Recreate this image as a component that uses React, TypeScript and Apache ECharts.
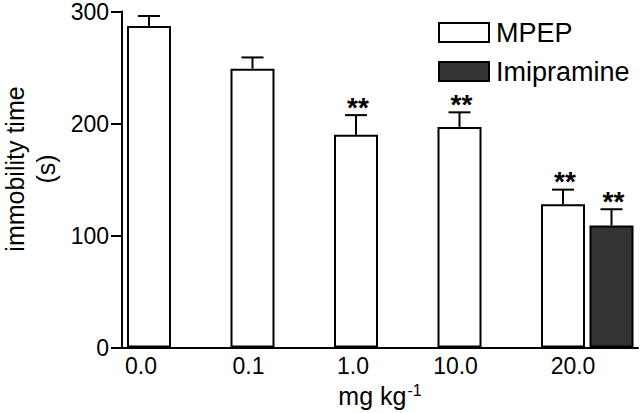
import React, { useEffect, useRef } from "react";
import * as echarts from "echarts";

// ---- data ----
const categories = ["0.0", "0.1", "1.0", "10.0", "20.0"];
const mpepMeans = [287, 249, 190, 197, 128];
const mpepSEM = [9, 10, 17.5, 13, 13];
const mpepSig = ["", "", "**", "**", "**"];
const imiCategory = "20.0";
const imiMeans = [109];
const imiSEM = [14.5];
const imiSig = ["**"];
const yTicks = [0, 100, 200, 300];

// ---- layout ----
const FONT = '"Liberation Sans", Arial, Helvetica, sans-serif';
const GRID = { left: 122, right: 2, top: 10, bottom: 58 };
const UNIT_PX = 103.5; // pixels between dose groups
const FIRST_PX = 27; // first bar centre from y axis
const BAR_W = 44;
const PAIR_GAP = 4.5;
const X_MIN = -FIRST_PX / UNIT_PX;
const X_MAX = X_MIN + (640 - GRID.left - GRID.right) / UNIT_PX;
const IMI_OFFSET = (BAR_W + PAIR_GAP) / UNIT_PX;
const LABEL_SHIFT_PX = [-8, -4, -3, -4, 10];

const imiIndex = categories.indexOf(imiCategory);
const mpepData = mpepMeans.map((v, i) => [i, v]);
const imiData = imiMeans.map((v) => [imiIndex + IMI_OFFSET, v]);
const mpepErr = mpepMeans.map((v, i) => [i, v, mpepSEM[i]]);
const imiErr = imiMeans.map((v, i) => [imiIndex + IMI_OFFSET, v, imiSEM[i]]);
const labelPositions = categories.map((_, i) => i + LABEL_SHIFT_PX[i] / UNIT_PX);

function errRenderer(sigs: string[]) {
  return (params: any, api: any) => {
    const x = api.value(0);
    const m = api.value(1);
    const e = api.value(2);
    const top = api.coord([x, m]);
    const cap = api.coord([x, m + e]);
    const children: any[] = [
      {
        type: "line",
        shape: { x1: top[0], y1: top[1], x2: cap[0], y2: cap[1] },
        style: { stroke: "#000", lineWidth: 2 },
      },
      {
        type: "line",
        shape: { x1: cap[0] - 11, y1: cap[1], x2: cap[0] + 11, y2: cap[1] },
        style: { stroke: "#000", lineWidth: 2 },
      },
    ];
    const s = sigs[params.dataIndex];
    if (s) {
      children.push({
        type: "text",
        style: {
          text: s,
          x: cap[0] + 2,
          y: cap[1] - 8,
          align: "center",
          verticalAlign: "middle",
          font: `bold 28px ${FONT}`,
          fill: "#000",
        },
      });
    }
    return { type: "group", children };
  };
}

export default function App() {
  const ref = useRef<HTMLDivElement>(null);
  useEffect(() => {
    if (!ref.current) return;
    const chart = echarts.init(ref.current, undefined, { renderer: "svg" });
    chart.setOption({
      animation: false,
      backgroundColor: "#fff",
      textStyle: { fontFamily: FONT, color: "#000" },
      grid: { ...GRID, containLabel: false },
      legend: {
        orient: "vertical",
        left: 438,
        top: 19,
        padding: 0,
        itemGap: 12,
        itemWidth: 50,
        itemHeight: 19,
        icon: "rect",
        textStyle: { fontSize: 27, color: "#000", fontFamily: FONT, padding: [0, 0, 0, 2] },
        data: ["MPEP", "Imipramine"],
      },
      xAxis: {
        type: "value",
        min: X_MIN,
        max: X_MAX,
        name: "mg kg{sup|-1}",
        nameLocation: "middle",
        nameGap: 31,
        nameTextStyle: {
          fontSize: 25,
          color: "#000",
          fontFamily: FONT,
          rich: {
            sup: { fontSize: 16, verticalAlign: "top", padding: [0, 0, 10, 1], fontFamily: FONT, color: "#000" },
          },
        },
        splitLine: { show: false },
        axisTick: { show: false },
        axisLine: { show: true, onZero: false, lineStyle: { color: "#000", width: 2 } },
        axisLabel: {
          customValues: labelPositions,
          fontSize: 23,
          color: "#000",
          margin: 7,
          fontFamily: FONT,
          formatter: (v: number) => categories[Math.round(v)] ?? "",
        },
      },
      yAxis: {
        type: "value",
        min: yTicks[0],
        max: yTicks[yTicks.length - 1],
        interval: yTicks[1] - yTicks[0],
        splitLine: { show: false },
        axisLine: { show: true, onZero: false, lineStyle: { color: "#000", width: 2 } },
        axisTick: { show: true, inside: false, length: 11, lineStyle: { color: "#000", width: 2 } },
        axisLabel: { fontSize: 23, color: "#000", margin: 13, fontFamily: FONT },
      },
      graphic: [
        {
          type: "text",
          x: 30,
          y: 169,
          rotation: Math.PI / 2,
          style: {
            text: "immobility time\n(s)",
            align: "center",
            verticalAlign: "middle",
            font: `25px ${FONT}`,
            lineHeight: 31,
            fill: "#000",
          },
        },
      ],
      series: [
        {
          name: "MPEP",
          type: "bar",
          data: mpepData,
          barWidth: BAR_W,
          barGap: "-100%",
          itemStyle: { color: "#fff", borderColor: "#000", borderWidth: 2 },
        },
        {
          name: "Imipramine",
          type: "bar",
          data: imiData,
          barWidth: BAR_W,
          barGap: "-100%",
          itemStyle: { color: "#333333", borderColor: "#000", borderWidth: 2 },
        },
        {
          type: "custom",
          renderItem: errRenderer(mpepSig),
          data: mpepErr,
          encode: { x: 0, y: 1 },
          z: 5,
        },
        {
          type: "custom",
          renderItem: errRenderer(imiSig),
          data: imiErr,
          encode: { x: 0, y: 1 },
          z: 5,
        },
      ],
    });
    return () => chart.dispose();
  }, []);
  return (
    <div
      ref={ref}
      style={{ position: "fixed", left: 0, top: 0, width: 640, height: 413, background: "#fff" }}
    />
  );
}
